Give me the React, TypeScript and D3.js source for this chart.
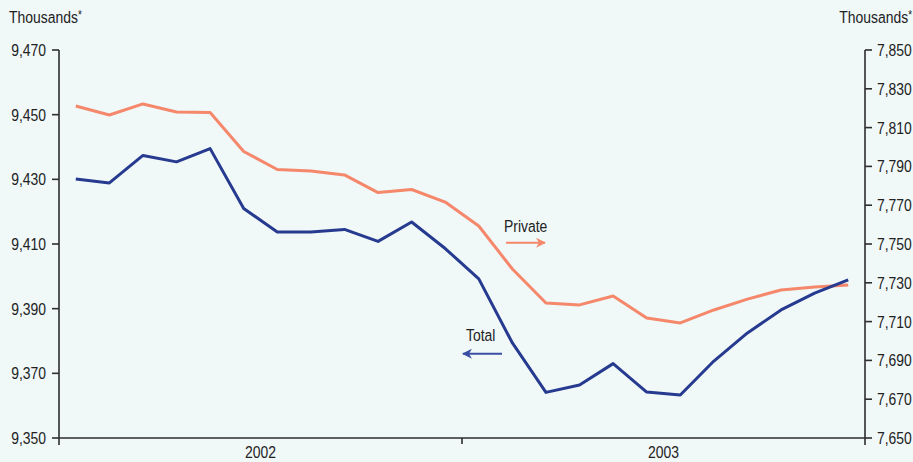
import React from "react";
import * as d3 from "d3";

const years = ["2002", "2003"];
const monthsPerYear = 12;
const totalValues = [
  9430.1, 9428.9, 9437.4, 9435.4, 9439.5, 9421.0, 9413.7, 9413.7, 9414.5, 9410.8, 9416.8, 9408.6,
  9399.2, 9379.4, 9364.1, 9366.4, 9373.0, 9364.2, 9363.3, 9373.8, 9382.5, 9389.6, 9394.8, 9398.9,
];
const privateValues = [
  7821.1, 7816.5, 7822.2, 7818.0, 7817.8, 7797.7, 7788.4, 7787.6, 7785.6, 7776.5, 7778.1, 7771.6,
  7759.3, 7737.1, 7719.6, 7718.6, 7723.2, 7711.9, 7709.3, 7716.0, 7721.6, 7726.3, 7727.8, 7728.9,
];
const leftTicks = [9350, 9370, 9390, 9410, 9430, 9450, 9470];
const rightTicks = [7650, 7670, 7690, 7710, 7730, 7750, 7770, 7790, 7810, 7830, 7850];
const unitLabel = "Thousands";

const W = 913;
const H = 462;
const BG = "#f0f8f8";
const AXIS = "#2e2e2e";
const ORANGE = "#f5876b";
const BLUE = "#263a8f";
const FONT = "'Liberation Sans', Arial, sans-serif";
const TEXT = "#222";
const SX = 0.82;

function Label(props: { x: number; y: number; anchor?: string; size?: number; children: any }) {
  const { x, y, anchor = "start", size = 17, children } = props;
  return (
    <text
      transform={`translate(${x},${y}) scale(${SX},1)`}
      fontSize={size}
      fill={TEXT}
      textAnchor={anchor}
    >
      {children}
    </text>
  );
}

export default function App() {
  const left = 59;
  const right = 865;
  const top = 50;
  const bottom = 438;
  const n = years.length * monthsPerYear;
  const x = d3.scaleLinear().domain([0, n]).range([left, right]);
  const yL = d3.scaleLinear().domain([9350, 9470]).range([bottom, top]);
  const yR = d3.scaleLinear().domain([7650, 7850]).range([bottom, top]);
  const fmt = d3.format(",");

  const totalLine = d3
    .line<number>()
    .x((_, i) => x(i + 0.5))
    .y((d) => yL(d))(totalValues) as string;
  const privateLine = d3
    .line<number>()
    .x((_, i) => x(i + 0.5))
    .y((d) => yR(d))(privateValues) as string;

  return (
    <svg
      width={W}
      height={H}
      style={{ position: "absolute", left: 0, top: 0, background: BG }}
      fontFamily={FONT}
    >
      <rect x={0} y={0} width={W} height={H} fill={BG} />
      <defs>
        <marker id="arrO" viewBox="0 0 10 10" refX="9" refY="5" markerWidth="5" markerHeight="5" orient="auto">
          <path d="M0,0 L10,5 L0,10 L3,5 Z" fill={ORANGE} />
        </marker>
        <marker id="arrB" viewBox="0 0 10 10" refX="9" refY="5" markerWidth="5" markerHeight="5" orient="auto">
          <path d="M0,0 L10,5 L0,10 L3,5 Z" fill="#3a4fa3" />
        </marker>
      </defs>

      {/* unit labels */}
      <Label x={9} y={22.5}>
        {unitLabel}
        <tspan fontSize={12} dy={-4}>*</tspan>
      </Label>
      <Label x={912} y={22.5} anchor="end">
        {unitLabel}
        <tspan fontSize={12} dy={-4}>*</tspan>
      </Label>

      {/* left axis */}
      <line x1={left} x2={left} y1={top} y2={bottom + 7} stroke={AXIS} strokeWidth={1.6} />
      {leftTicks.map((t) => (
        <g key={"l" + t}>
          <line x1={left - 7} x2={left} y1={yL(t)} y2={yL(t)} stroke={AXIS} strokeWidth={1.6} />
          <Label x={left - 13} y={yL(t) + 6} anchor="end">
            {fmt(t)}
          </Label>
        </g>
      ))}

      {/* right axis */}
      <line x1={right} x2={right} y1={top} y2={bottom + 7} stroke={AXIS} strokeWidth={1.6} />
      {rightTicks.map((t) => (
        <g key={"r" + t}>
          <line x1={right} x2={right + 7} y1={yR(t)} y2={yR(t)} stroke={AXIS} strokeWidth={1.6} />
          <Label x={right + 12} y={yR(t) + 6}>
            {fmt(t)}
          </Label>
        </g>
      ))}

      {/* bottom axis */}
      <line x1={left} x2={right} y1={bottom} y2={bottom} stroke={AXIS} strokeWidth={1.6} />
      {years.map((yr, i) => (
        <g key={yr}>
          {i > 0 && (
            <line
              x1={x(i * monthsPerYear)}
              x2={x(i * monthsPerYear)}
              y1={bottom}
              y2={bottom + 6}
              stroke={AXIS}
              strokeWidth={1.6}
            />
          )}
          <Label x={x(i * monthsPerYear + monthsPerYear / 2)} y={458} anchor="middle">
            {yr}
          </Label>
        </g>
      ))}

      {/* data lines */}
      <path d={privateLine} fill="none" stroke={ORANGE} strokeWidth={3} strokeLinejoin="round" />
      <path d={totalLine} fill="none" stroke={BLUE} strokeWidth={3} strokeLinejoin="round" />

      {/* annotations */}
      <Label x={504} y={231.5}>Private</Label>
      <line x1={506} x2={545} y1={242.7} y2={242.7} stroke={ORANGE} strokeWidth={2} markerEnd="url(#arrO)" />
      <Label x={466} y={340.5}>Total</Label>
      <line x1={502} x2={463} y1={353.7} y2={353.7} stroke="#3a4fa3" strokeWidth={2} markerEnd="url(#arrB)" />
    </svg>
  );
}
